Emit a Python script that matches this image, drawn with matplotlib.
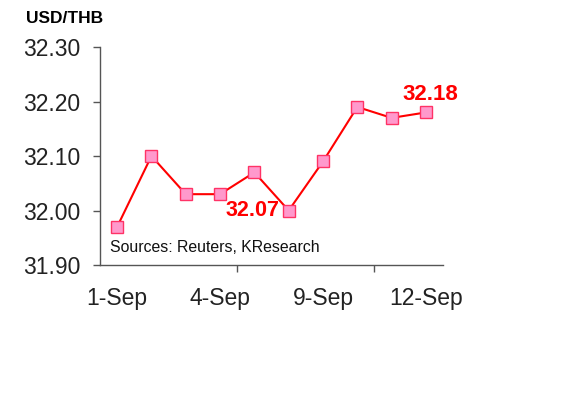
import matplotlib
matplotlib.use('Agg')
import matplotlib.pyplot as plt

dates = ['1-Sep', '2-Sep', '3-Sep', '4-Sep', '5-Sep', '8-Sep', '9-Sep', '10-Sep', '11-Sep', '12-Sep']
rates = [31.97, 32.10, 32.03, 32.03, 32.07, 32.00, 32.09, 32.19, 32.17, 32.18]
shown_labels = ['1-Sep', '4-Sep', '9-Sep', '12-Sep']
y_ticks = [31.90, 32.00, 32.10, 32.20, 32.30]

plt.rcParams['font.family'] = ['Liberation Sans', 'DejaVu Sans']

fig = plt.figure(figsize=(5.83, 4.2), dpi=100)
ax = fig.add_axes([0.1715, 0.369, 0.5885, 0.519])

x = list(range(len(dates)))
ax.plot(x, rates, color='#ff0000', lw=1.5, marker='s', markersize=8,
        markerfacecolor='#ff99cc', markeredgecolor='#ff3366', markeredgewidth=1)

ax.set_xlim(-0.5, len(dates) - 0.5)
ax.set_ylim(31.90, 32.30)
ax.set_yticks(y_ticks)
ax.set_yticklabels(['%.2f' % v for v in y_ticks])

label_pos = [dates.index(d) for d in shown_labels]
ax.set_xticks(label_pos)
ax.set_xticklabels(shown_labels)
ax.set_xticks([3.5, 7.5], minor=True)
ax.tick_params(axis='x', which='major', length=0, pad=16, labelsize=16.5, colors='#222222')
ax.tick_params(axis='x', which='minor', length=5, width=1, direction='out', colors='#555555')
ax.tick_params(axis='y', length=5, width=1, direction='out', pad=9, labelsize=16.5,
               colors='#555555', labelcolor='#222222')

for s in ['top', 'right']:
    ax.spines[s].set_visible(False)
for s in ['left', 'bottom']:
    ax.spines[s].set_color('#555555')
    ax.spines[s].set_linewidth(1)

# labels for the low and the last value
i_low = dates.index('8-Sep')
ax.annotate('32.07', xy=(i_low, rates[i_low]), xytext=(-26, 0), textcoords='offset points',
            ha='center', va='center', color='#ff0000', fontsize=15.5, fontweight='bold')
ax.annotate('%.2f' % rates[-1], xy=(len(dates) - 1, rates[-1]), xytext=(3, 13),
            textcoords='offset points', ha='center', va='center', color='#ff0000',
            fontsize=16, fontweight='bold')

ax.text(0.03, 0.08, 'Sources: Reuters, KResearch', transform=ax.transAxes,
        fontsize=11.4, color='#111111', va='center', ha='left')
fig.text(0.044, 0.957, 'USD/THB', fontsize=12.5, fontweight='bold', va='center', ha='left')

fig.savefig('out.png', dpi=100)
